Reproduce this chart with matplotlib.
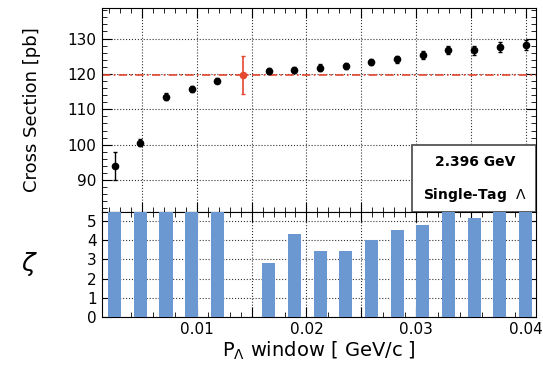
import numpy as np
import matplotlib.pyplot as plt
from matplotlib.ticker import MultipleLocator, FuncFormatter

# Datos
ventana = np.linspace(0.0025, 0.04, 17)
seccion = [94.0, 100.6, 113.6, 115.7, 118.1, 119.7, 120.8, 121.2, 121.8, 122.2,
           123.3, 124.2, 125.3, 126.7, 126.7, 127.6, 128.2]
error = [4.0, 1.0, 1.0, 0.8, 0.8, 5.3, 0.8, 0.8, 0.9, 0.9,
         0.9, 1.0, 1.1, 1.2, 1.3, 1.3, 1.4]
indice_ref = 5
zeta = [6.0, 6.0, 6.0, 6.0, 6.0, 0.0, 2.81, 4.34, 3.46, 3.46,
        4.0, 4.53, 4.77, 6.0, 5.18, 6.0, 6.0]

rojo = '#e5472f'
azul = '#6c98d2'

fig = plt.figure(figsize=(5.43, 3.68), dpi=100)
ax1 = fig.add_axes([0.187, 0.424, 0.801, 0.554])
ax2 = fig.add_axes([0.187, 0.139, 0.801, 0.285], sharex=ax1)

# Panel superior: seccion eficaz
otros = [i for i in range(len(ventana)) if i != indice_ref]
ax1.errorbar(ventana[otros], np.array(seccion)[otros], yerr=np.array(error)[otros],
             fmt='o', color='black', ms=4.5, elinewidth=1, capsize=1.5, zorder=3)
ax1.errorbar([ventana[indice_ref]], [seccion[indice_ref]], yerr=[error[indice_ref]],
             fmt='o', color=rojo, ms=4.5, elinewidth=1.2, capsize=1.5, zorder=4)
ax1.axhline(seccion[indice_ref], color=rojo, lw=1.2, ls=(0, (5, 2, 1, 2)), zorder=2)

ax1.set_xlim(0.0013, 0.041)
ax1.set_ylim(81, 138.6)
ax1.xaxis.set_major_locator(MultipleLocator(0.005))
ax1.xaxis.set_minor_locator(MultipleLocator(0.001))
ax1.yaxis.set_major_locator(MultipleLocator(10))
ax1.yaxis.set_minor_locator(MultipleLocator(2))
ax1.tick_params(which='both', direction='in', top=True, right=True, labelbottom=False)
ax1.tick_params(which='major', length=7)
ax1.tick_params(which='minor', length=3.5)
ax1.tick_params(axis='y', labelsize=11)
ax1.grid(True, which='major', ls=':', color='#333333', lw=0.8)
ax1.set_ylabel('Cross Section [pb]', fontsize=13)
ax1.yaxis.set_label_coords(-0.14, 0.5)

caja = plt.Rectangle((0.713, 0.0), 0.287, 0.33, transform=ax1.transAxes,
                     facecolor='white', edgecolor='#555555', lw=1.3, zorder=5)
ax1.add_patch(caja)
ax1.text(0.858, 0.245, '2.396 GeV', transform=ax1.transAxes, ha='center', va='center',
         fontsize=10, fontweight='bold', zorder=6)
ax1.text(0.858, 0.085, 'Single-Tag  $\\Lambda$', transform=ax1.transAxes, ha='center',
         va='center', fontsize=10, fontweight='bold', zorder=6)

# Panel inferior: significancia
ax2.bar(ventana, zeta, width=0.0012, color=azul, zorder=3)
ax2.set_ylim(0, 5.47)
ax2.yaxis.set_major_locator(MultipleLocator(1))
ax2.tick_params(which='both', direction='in', top=True, right=True)
ax2.tick_params(which='major', length=7)
ax2.tick_params(which='minor', length=3.5)
ax2.tick_params(labelsize=11)
ax2.xaxis.set_major_formatter(FuncFormatter(
    lambda v, p: ('%.2f' % v) if abs(round(v * 100) - v * 100) < 1e-6 else ''))
ax2.grid(True, which='major', ls=':', color='#333333', lw=0.8, zorder=0)
ax2.set_ylabel('$\\zeta$', fontsize=18, rotation=0, ha='center', va='center')
ax2.yaxis.set_label_coords(-0.165, 0.5)
ax2.set_xlabel('P$_\\Lambda$ window [ GeV/c ]', fontsize=14, labelpad=2)

plt.savefig('out.png', dpi=100)
